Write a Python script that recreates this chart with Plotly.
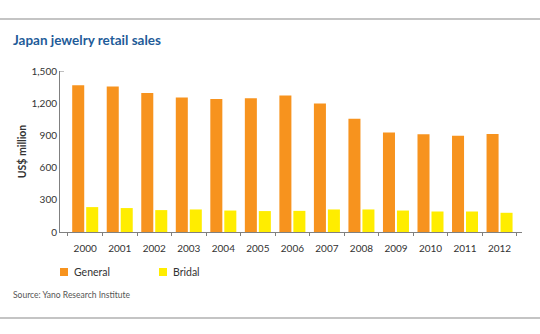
import plotly.graph_objects as go

# Japan jewelry retail sales, US$ million
years = ["2000", "2001", "2002", "2003", "2004", "2005", "2006",
         "2007", "2008", "2009", "2010", "2011", "2012"]
general = [1367, 1355, 1296, 1253, 1240, 1247, 1272, 1197, 1055, 928, 910, 897, 912]
bridal = [232, 223, 204, 210, 200, 195, 197, 210, 210, 200, 191, 191, 179]
y_ticks = [0, 300, 600, 900, 1200, 1500]

series_names = ["General", "Bridal"]
series_colors = ["#F7931E", "#FFED00"]

W, H = 540, 334
ML, MR, MT, MB = 60, 18, 71, 102

FONT = "Lato"


def px_x(x):
    return (x - ML) / (W - ML - MR)


def px_y(y):
    return (H - MB - y) / (H - MT - MB)


fig = go.Figure()
for name, vals, col in zip(series_names, [general, bridal], series_colors):
    fig.add_trace(go.Bar(name=name, x=years, y=vals, marker_color=col,
                         marker_line_width=0, showlegend=False))

fig.update_layout(
    width=W, height=H,
    margin=dict(l=ML, r=MR, t=MT, b=MB, autoexpand=False),
    paper_bgcolor="white", plot_bgcolor="white",
    barmode="group", bargap=0.19, bargroupgap=0.14,
    font=dict(family=FONT, size=10, color="#333333"),
    xaxis=dict(type="category", range=[-0.73, 12.65], showline=True,
               linecolor="#808080", linewidth=1, ticks="outside", ticklen=3,
               tickcolor="#808080", tickson="boundaries", showgrid=False,
               ticklabelstandoff=7,
               tickfont=dict(size=10, color="#333333")),
    yaxis=dict(range=[0, 1500], tickvals=y_ticks, tickformat=",", showline=True,
               linecolor="#808080", linewidth=1, ticks="", showgrid=False,
               zeroline=False, tickfont=dict(size=10, color="#333333"),
               title=dict(text="<b>US$ million</b>", standoff=2,
                          font=dict(size=10.5, color="#333333"))),
)

# top stub on the value axis
fig.add_shape(type="line", xref="paper", yref="y", x0=0, x1=px_x(64),
              y0=1500, y1=1500, line=dict(color="#808080", width=1))

# rules above and below the panel
for yy in (19, 318):
    fig.add_shape(type="line", xref="paper", yref="paper", x0=px_x(0), x1=px_x(W),
                  y0=px_y(yy), y1=px_y(yy), line=dict(color="#B0B0B0", width=1.5))

# legend: small colour squares with labels
for i, (name, col) in enumerate(zip(series_names, series_colors)):
    x0 = 60 + i * 99
    fig.add_shape(type="rect", xref="paper", yref="paper",
                  x0=px_x(x0), x1=px_x(x0 + 8), y0=px_y(276), y1=px_y(268),
                  fillcolor=col, line=dict(width=0))
    fig.add_annotation(text=name, xref="paper", yref="paper",
                       x=px_x(x0 + 12), y=px_y(272), xanchor="left", yanchor="middle",
                       showarrow=False, font=dict(size=10.5, color="#333333"))

fig.add_annotation(text="<b>Japan jewelry retail sales</b>", xref="paper", yref="paper",
                   x=px_x(11), y=px_y(40), xanchor="left", yanchor="middle",
                   showarrow=False, font=dict(size=13.5, color="#1F5C99", family=FONT))
fig.add_annotation(text="Source: Yano Research Institute", xref="paper", yref="paper",
                   x=px_x(11), y=px_y(295), xanchor="left", yanchor="middle",
                   showarrow=False, font=dict(size=8.5, color="#555555", family=FONT))

fig.write_html("out.html")
